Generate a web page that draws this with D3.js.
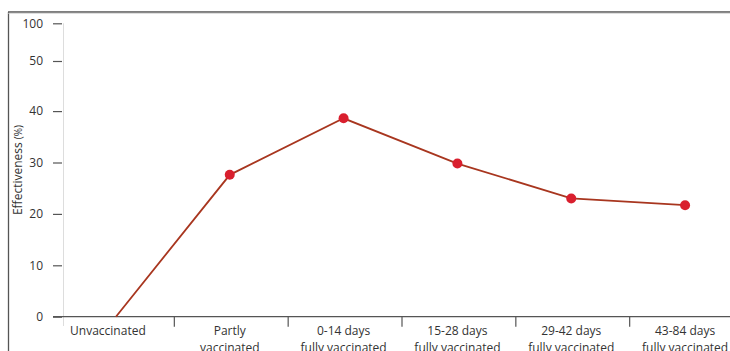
<!DOCTYPE html>
<html><head><meta charset="utf-8">
<script src="https://cdn.jsdelivr.net/npm/d3@7"></script>
<style>
html,body{margin:0;padding:0;background:#fff;}
svg{display:block;font-family:"Open Sans",sans-serif;}
</style></head>
<body>
<svg id="chart" width="730" height="351"></svg>
<script>
const categories = [
  ["Unvaccinated"],
  ["Partly", "vaccinated"],
  ["0-14 days", "fully vaccinated"],
  ["15-28 days", "fully vaccinated"],
  ["29-42 days", "fully vaccinated"],
  ["43-84 days", "fully vaccinated"]
];
const effectiveness = [0, 27.6, 38.6, 29.8, 23.0, 21.7];
const yTicks = [0, 10, 20, 30, 40, 50, 100];

const svg = d3.select("#chart");
const keys = categories.map(c => c.join(" "));

const x = d3.scaleBand().domain(keys).range([59, 742]).padding(0);
const y = d3.scaleLinear().domain([0, 10, 20, 30, 40, 50, 100])
  .range([316.7, 265.3, 213.9, 162.5, 111.1, 61, 23.3]);

// frame
svg.append("line").attr("x1", 8.5).attr("x2", 8.5).attr("y1", 12).attr("y2", 351)
  .attr("stroke", "#555").attr("stroke-width", 1.3);
svg.append("line").attr("x1", 8).attr("x2", 730).attr("y1", 12).attr("y2", 12)
  .attr("stroke", "#555").attr("stroke-width", 1.5);
svg.append("line").attr("x1", 8).attr("x2", 730).attr("y1", 13.3).attr("y2", 13.3)
  .attr("stroke", "#ccc").attr("stroke-width", 0.8);

// y axis light line
svg.append("line").attr("x1", 63.5).attr("x2", 63.5).attr("y1", y(100)).attr("y2", 326)
  .attr("stroke", "#ddd").attr("stroke-width", 1);

// y axis ticks
const yAxis = d3.axisLeft(y).tickValues(yTicks).tickSize(9).tickPadding(10).tickFormat(d3.format("d"));
const gy = svg.append("g").attr("transform", "translate(62,0)").call(yAxis);
gy.select(".domain").remove();
gy.selectAll(".tick line").attr("stroke", "#555").attr("stroke-width", 1.2);
gy.selectAll(".tick text").attr("fill", "#333").style("font-size", "12px")
  .style("font-family", "'Open Sans',sans-serif");

// x axis
svg.append("line").attr("x1", 53).attr("x2", 730).attr("y1", y(0)).attr("y2", y(0))
  .attr("stroke", "#555").attr("stroke-width", 1.3);
const bounds = keys.slice(1).map(k => x(k));
svg.selectAll(".xb").data(bounds).enter().append("line")
  .attr("x1", d => d + 1.5).attr("x2", d => d + 1.5)
  .attr("y1", y(0)).attr("y2", y(0) + 10)
  .attr("stroke", "#555").attr("stroke-width", 1.2);

const labels = svg.selectAll(".xl").data(categories).enter().append("text")
  .attr("text-anchor", "middle")
  .attr("fill", "#333").style("font-size", "12px")
  .attr("transform", (d, i) => `translate(${x(keys[i]) + x.bandwidth() / 2 + (i === 0 ? -8 : 0)},335)`);
labels.selectAll("tspan").data(d => d).enter().append("tspan")
  .attr("x", 0).attr("dy", (d, i) => i === 0 ? 0 : 17).text(d => d);

// y label
const yl = svg.append("text").attr("transform", "translate(22,170) rotate(-90)")
  .attr("text-anchor", "middle").attr("fill", "#333").style("font-size", "12px");
yl.append("tspan").text("Effectiveness ");
yl.append("tspan").style("font-size", "10px").text("(%)");

// line
const cx = (d, i) => x(keys[i]) + x.bandwidth() / 2;
svg.append("path").datum(effectiveness)
  .attr("fill", "none").attr("stroke", "#a8361f").attr("stroke-width", 1.8)
  .attr("d", d3.line().x(cx).y(d => y(d)));

svg.selectAll(".pt").data(effectiveness.slice(1)).enter().append("circle")
  .attr("cx", (d, i) => cx(d, i + 1)).attr("cy", d => y(d)).attr("r", 5)
  .attr("fill", "#d91f2e");
</script>
</body></html>
